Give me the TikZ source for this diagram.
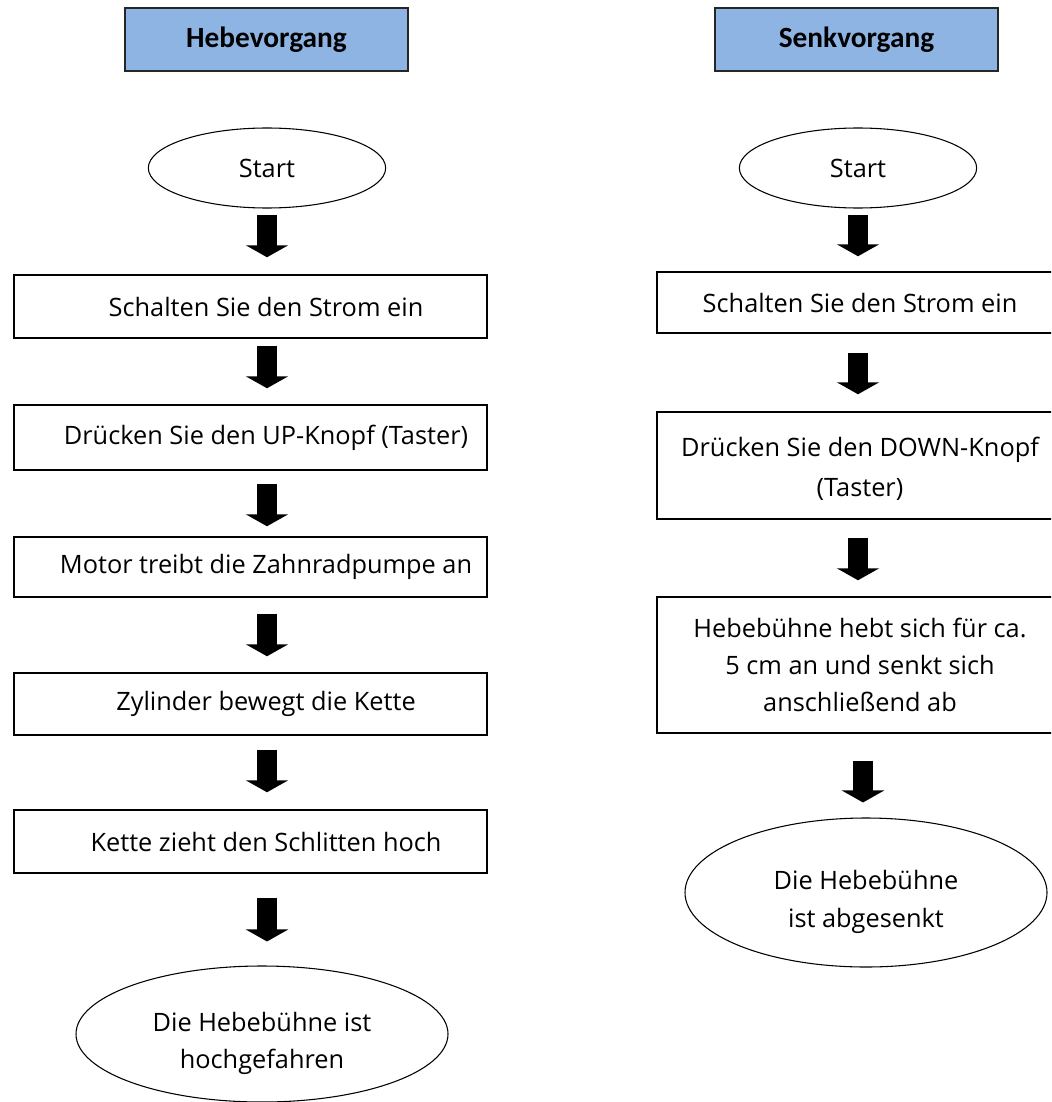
\documentclass[tikz,border=0pt]{standalone}
\usepackage{fontspec}
\setmainfont{Open Sans}
\newfontfamily\hdfont{Carlito}
\usetikzlibrary{shapes.geometric,arrows.meta,calc}
\definecolor{hdblue}{RGB}{142,180,227}
\newcommand{\lowerfirst}{\rule{0pt}{28.5pt}}
\begin{document}
\begin{tikzpicture}[x=0.75pt,y=-0.75pt,
  every node/.style={font=\fontsize{19pt}{28pt}\selectfont},
  hdr/.style={draw=black!85,line width=1.3pt,fill=hdblue,minimum width=212.25pt,
    minimum height=47.25pt,inner sep=0pt,font=\hdfont\bfseries\fontsize{22pt}{26pt}\selectfont},
  lbox/.style={draw,line width=1.1pt,inner sep=0pt,minimum width=354.75pt,
    execute at begin node={\hspace*{23.25pt}}},
  rbox/.style={draw,line width=1.1pt,inner sep=0pt,minimum width=304.5pt,align=center},
  oval/.style={draw,ellipse,line width=0.8pt,inner sep=0pt,align=center},
  blk/.style={line width=15pt,-{Triangle[width=31.5pt,length=9pt]}}]
\useasboundingbox (0,0) rectangle (1051,1102);
\clip (0,0) rectangle (1051,1102);

% headers
\node[hdr] (h1) at (266.5,39.5) {Hebevorgang};
\node[hdr] (h2) at (856.5,39.5) {Senkvorgang};

% left column
\node[oval,minimum width=178pt,minimum height=60pt] (L0) at (267,168) {Start};
\node[lbox,minimum height=47.25pt] (L1) at (250.5,306.5) {Schalten Sie den Strom ein};
\node[lbox,minimum height=48.75pt] (L2) at (250.5,437.5) {Drücken Sie den UP-Knopf (Taster)};
\node[lbox,minimum height=45pt] (L3) at (250.5,567) {Motor treibt die Zahnradpumpe an};
\node[lbox,minimum height=46.5pt] (L4) at (250.5,704) {Zylinder bewegt die Kette};
\node[lbox,minimum height=47.25pt] (L5) at (250.5,841.5) {Kette zieht den Schlitten hoch};
\node[oval,minimum width=279pt,minimum height=102pt] (L6) at (262,1034) {\lowerfirst Die Hebebühne ist\\hochgefahren};

% right column
\node[oval,minimum width=178pt,minimum height=60pt] (R0) at (858,168) {Start};
\node[rbox,minimum height=45.75pt] (R1) at (860,302.5) {Schalten Sie den Strom ein};
\node[rbox,minimum height=80.25pt] (R2) at (860,465.5) {\rule{0pt}{19pt}Drücken Sie den DOWN-Knopf\\[2pt](Taster)};
\node[rbox,minimum height=102pt] (R3) at (860,665) {Hebebühne hebt sich für ca.\\5 cm an und senkt sich\\anschließend ab};
\node[oval,minimum width=271.5pt,minimum height=111.75pt] (R4) at (866,892.5) {\lowerfirst Die Hebebühne\\ist abgesenkt};

% arrows
\coordinate (lx) at (267,0);
\coordinate (rx) at (858,0);
\coordinate (rx2) at (863,0);
\draw[blk] ($(L0.south -| lx)+(0,6)$) -- ($(L1.north -| lx)+(0,-17)$);
\draw[blk] ($(L1.south -| lx)+(0,7)$) -- ($(L2.north -| lx)+(0,-16)$);
\draw[blk] ($(L2.south -| lx)+(0,13)$) -- ($(L3.north -| lx)+(0,-10)$);
\draw[blk] ($(L3.south -| lx)+(0,16)$) -- ($(L4.north -| lx)+(0,-16)$);
\draw[blk] ($(L4.south -| lx)+(0,14)$) -- ($(L5.north -| lx)+(0,-17)$);
\draw[blk] ($(L5.south -| lx)+(0,24)$) -- ($(L6.north -| lx)+(0,-24)$);

\draw[blk] ($(R0.south -| rx)+(0,6)$) -- ($(R1.north -| rx)+(0,-15)$);
\draw[blk] ($(R1.south -| rx)+(0,19)$) -- ($(R2.north -| rx)+(0,-17)$);
\draw[blk] ($(R2.south -| rx)+(0,18)$) -- ($(R3.north -| rx)+(0,-16)$);
\draw[blk] ($(R3.south -| rx2)+(0,27)$) -- ($(R4.north -| rx2)+(0,-15)$);
\end{tikzpicture}
\end{document}
